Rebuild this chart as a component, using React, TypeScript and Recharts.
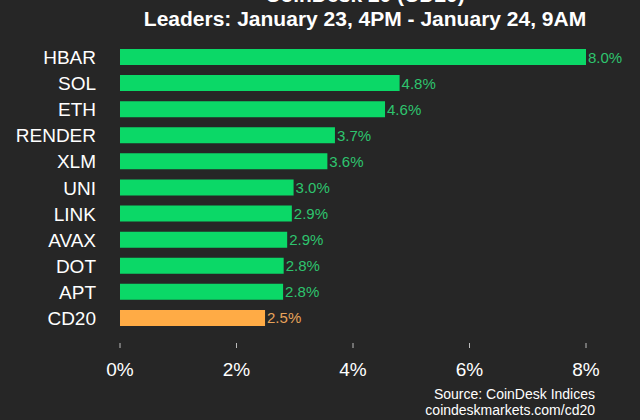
import React from 'react';
import { BarChart, Bar, XAxis, YAxis, Cell, LabelList } from 'recharts';

const categories = ['HBAR', 'SOL', 'ETH', 'RENDER', 'XLM', 'UNI', 'LINK', 'AVAX', 'DOT', 'APT', 'CD20'];
const values = [8.0, 4.8, 4.55, 3.69, 3.56, 2.98, 2.95, 2.87, 2.81, 2.8, 2.49];
const labels = ['8.0%', '4.8%', '4.6%', '3.7%', '3.6%', '3.0%', '2.9%', '2.9%', '2.8%', '2.8%', '2.5%'];
const xTicks = [0, 2, 4, 6, 8];

const data = categories.map((name, i) => ({ name, value: values[i], label: labels[i] }));

const BG = '#262626';
const GREEN = '#0bd867';
const GREEN_TEXT = '#2ec46e';
const ORANGE = '#ffab45';
const ORANGE_TEXT = '#e6a35a';
const FONT = '"Liberation Sans", Arial, Helvetica, sans-serif';

const XTick = (props: any) => {
  const { x, y, payload } = props;
  return (
    <g>
      <line x1={x} x2={x} y1={y + 12} y2={y + 17} stroke="#bbbbbb" strokeWidth={1} />
      <text x={x} y={y + 45} textAnchor="middle" fill="#ffffff" fontSize={19} fontFamily={FONT}>
        {`${payload.value}%`}
      </text>
    </g>
  );
};

const YTick = (props: any) => {
  const { x, y, payload } = props;
  return (
    <text x={x} y={y} dy={7} textAnchor="end" fill="#ffffff" fontSize={19} fontFamily={FONT}>
      {payload.value}
    </text>
  );
};

const ValueLabel = (props: any) => {
  const { x, y, width, height, index } = props;
  const isIndex = categories[index] === 'CD20';
  return (
    <text
      x={x + width + 2}
      y={y + height / 2}
      dy={5.5}
      textAnchor="start"
      fill={isIndex ? ORANGE_TEXT : GREEN_TEXT}
      fontSize={15}
      fontFamily={FONT}
    >
      {labels[index]}
    </text>
  );
};

export default function App() {
  return (
    <div
      style={{
        position: 'absolute',
        left: 0,
        top: 0,
        width: 640,
        height: 420,
        background: BG,
        overflow: 'hidden',
        fontFamily: FONT,
      }}
    >
      <div
        style={{
          position: 'absolute',
          left: 0,
          width: 730,
          top: -17,
          textAlign: 'center',
          color: '#ffffff',
          fontWeight: 'bold',
          fontSize: 21,
          lineHeight: '24px',
        }}
      >
        <div>CoinDesk 20 (CD20)</div>
        <div>Leaders: January 23, 4PM - January 24, 9AM</div>
      </div>
      <BarChart
        width={640}
        height={420}
        data={data}
        layout="vertical"
        margin={{ top: 44, right: 54, bottom: 59, left: 0 }}
        barCategoryGap={5}
      >
        <XAxis
          type="number"
          domain={[0, 8]}
          ticks={xTicks}
          axisLine={false}
          tickLine={false}
          tickSize={0}
          tickMargin={0}
          height={30}
          tick={<XTick />}
          interval={0}
        />
        <YAxis
          type="category"
          dataKey="name"
          width={120}
          axisLine={false}
          tickLine={false}
          tickSize={0}
          tickMargin={24}
          tick={<YTick />}
          interval={0}
        />
        <Bar dataKey="value" isAnimationActive={false}>
          {data.map((d) => (
            <Cell key={d.name} fill={d.name === 'CD20' ? ORANGE : GREEN} />
          ))}
          <LabelList dataKey="value" content={<ValueLabel />} />
        </Bar>
      </BarChart>
      <div
        style={{
          position: 'absolute',
          right: 45,
          top: 386,
          textAlign: 'right',
          color: '#ffffff',
          fontSize: 14,
          lineHeight: '16px',
        }}
      >
        <div>Source: CoinDesk Indices</div>
        <div>coindeskmarkets.com/cd20</div>
      </div>
    </div>
  );
}
